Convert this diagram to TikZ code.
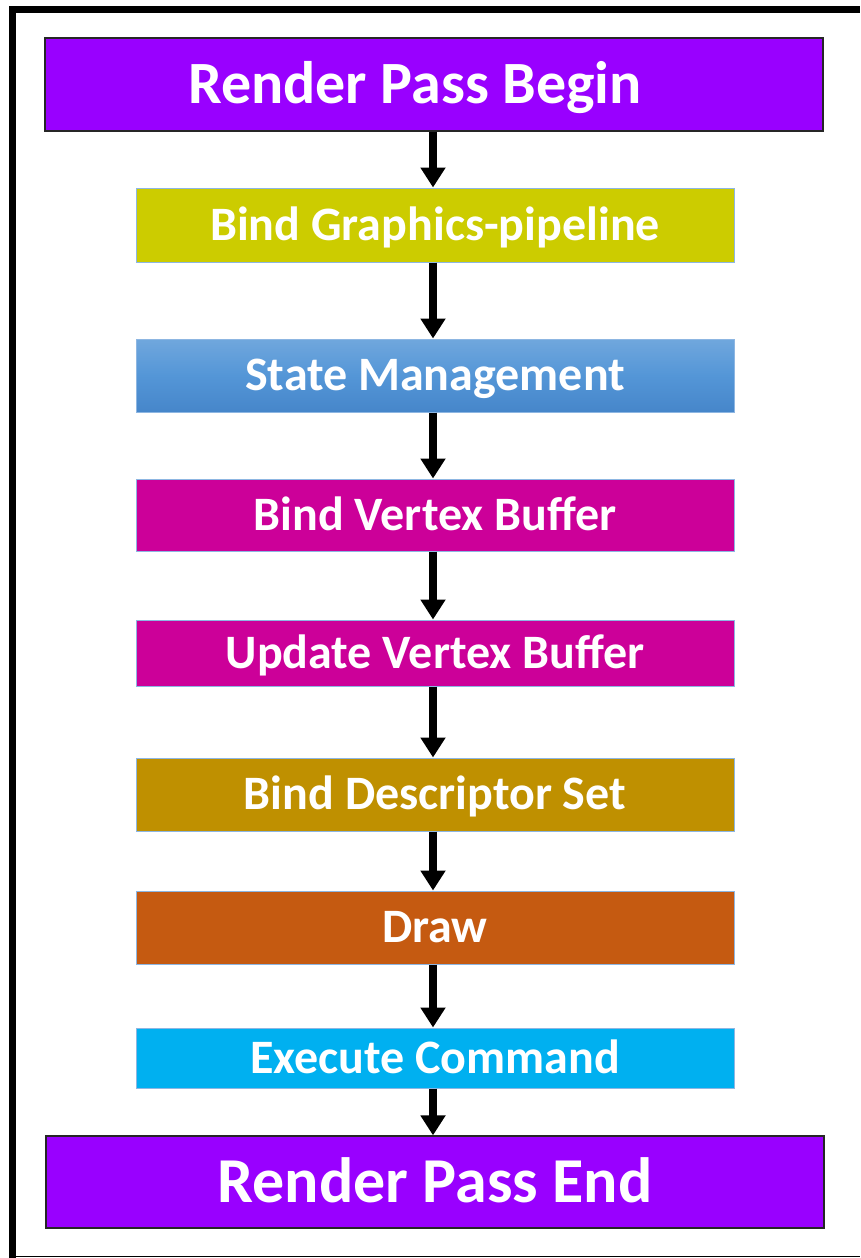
\documentclass[tikz,border=0pt]{standalone}
\usepackage{fontspec}
\setmainfont{Carlito}
\usetikzlibrary{arrows.meta}
\definecolor{cpurple}{HTML}{9900FF}
\definecolor{colive}{HTML}{CCCC00}
\definecolor{cmagenta}{HTML}{CC0099}
\definecolor{cgold}{HTML}{BF9000}
\definecolor{corange}{HTML}{C55A11}
\definecolor{ccyan}{HTML}{00B0F0}
\definecolor{cedge}{HTML}{8DB6E2}
\definecolor{smtop}{RGB}{112,167,221}
\definecolor{smmid}{RGB}{84,150,215}
\definecolor{smbot}{RGB}{70,134,202}
\tikzset{
  bigbox/.style={draw=black!85, line width=1.3pt, minimum width=778pt, inner sep=0pt, text=white,
    text height=38.4pt, text depth=0pt,
    font=\fontsize{60}{64}\selectfont\bfseries},
  stepbox/.style={draw=cedge, line width=1pt, minimum width=598pt, inner sep=0pt, text=white,
    text height=30.7pt, text depth=0pt,
    font=\fontsize{48}{52}\selectfont\bfseries},
  arr/.style={line width=8pt, -{Triangle[width=24pt,length=20pt]}, shorten >=0pt},
}
\begin{document}
\begin{tikzpicture}[x=1pt,y=-1pt]
\useasboundingbox (0,0) rectangle (860,1258);
% outer frame
\draw[line width=7pt] (12.5,6) -- (12.5,1258);
\draw[line width=7pt] (9,9.5) -- (860,9.5);
\draw[line width=1.5pt] (9,1256.5) -- (860,1256.5);
% nodes
\node[bigbox, fill=cpurple, minimum height=93pt] (begin) at (434,84.5) {Render Pass Begin\hspace*{38pt}};
\node[stepbox, fill=colive, minimum height=74pt] (bgp) at (435,225) {Bind Graphics-pipeline};
\node[stepbox, top color=smtop, bottom color=smbot, middle color=smmid, minimum height=73pt] (sm) at (435,375.5) {State Management};
\node[stepbox, fill=cmagenta, minimum height=72pt] (bvb) at (435,515) {Bind Vertex Buffer};
\node[stepbox, fill=cmagenta, minimum height=66pt] (uvb) at (435,653) {Update Vertex Buffer};
\node[stepbox, fill=cgold, minimum height=73pt] (bds) at (435,794.5) {Bind Descriptor Set};
\node[stepbox, fill=corange, minimum height=73pt] (drw) at (435,927.5) {Draw};
\node[stepbox, fill=ccyan, minimum height=60pt] (exe) at (435,1058) {Execute Command};
\node[bigbox, fill=cpurple, minimum height=92pt, text height=41pt, font=\fontsize{64}{68}\selectfont\bfseries] (end) at (435,1182) {Render Pass End};
% arrows
\draw[arr] (begin.south -| 433,0) -- (bgp.north -| 433,0);
\draw[arr] (bgp.south -| 433,0) -- (sm.north -| 433,0);
\draw[arr] (sm.south -| 433,0) -- (bvb.north -| 433,0);
\draw[arr] (bvb.south -| 433,0) -- (uvb.north -| 433,0);
\draw[arr] (uvb.south -| 433,0) -- (bds.north -| 433,0);
\draw[arr] (bds.south -| 433,0) -- (drw.north -| 433,0);
\draw[arr] (drw.south -| 433,0) -- (exe.north -| 433,0);
\draw[arr] (exe.south -| 433,0) -- (end.north -| 433,0);
\end{tikzpicture}
\end{document}
